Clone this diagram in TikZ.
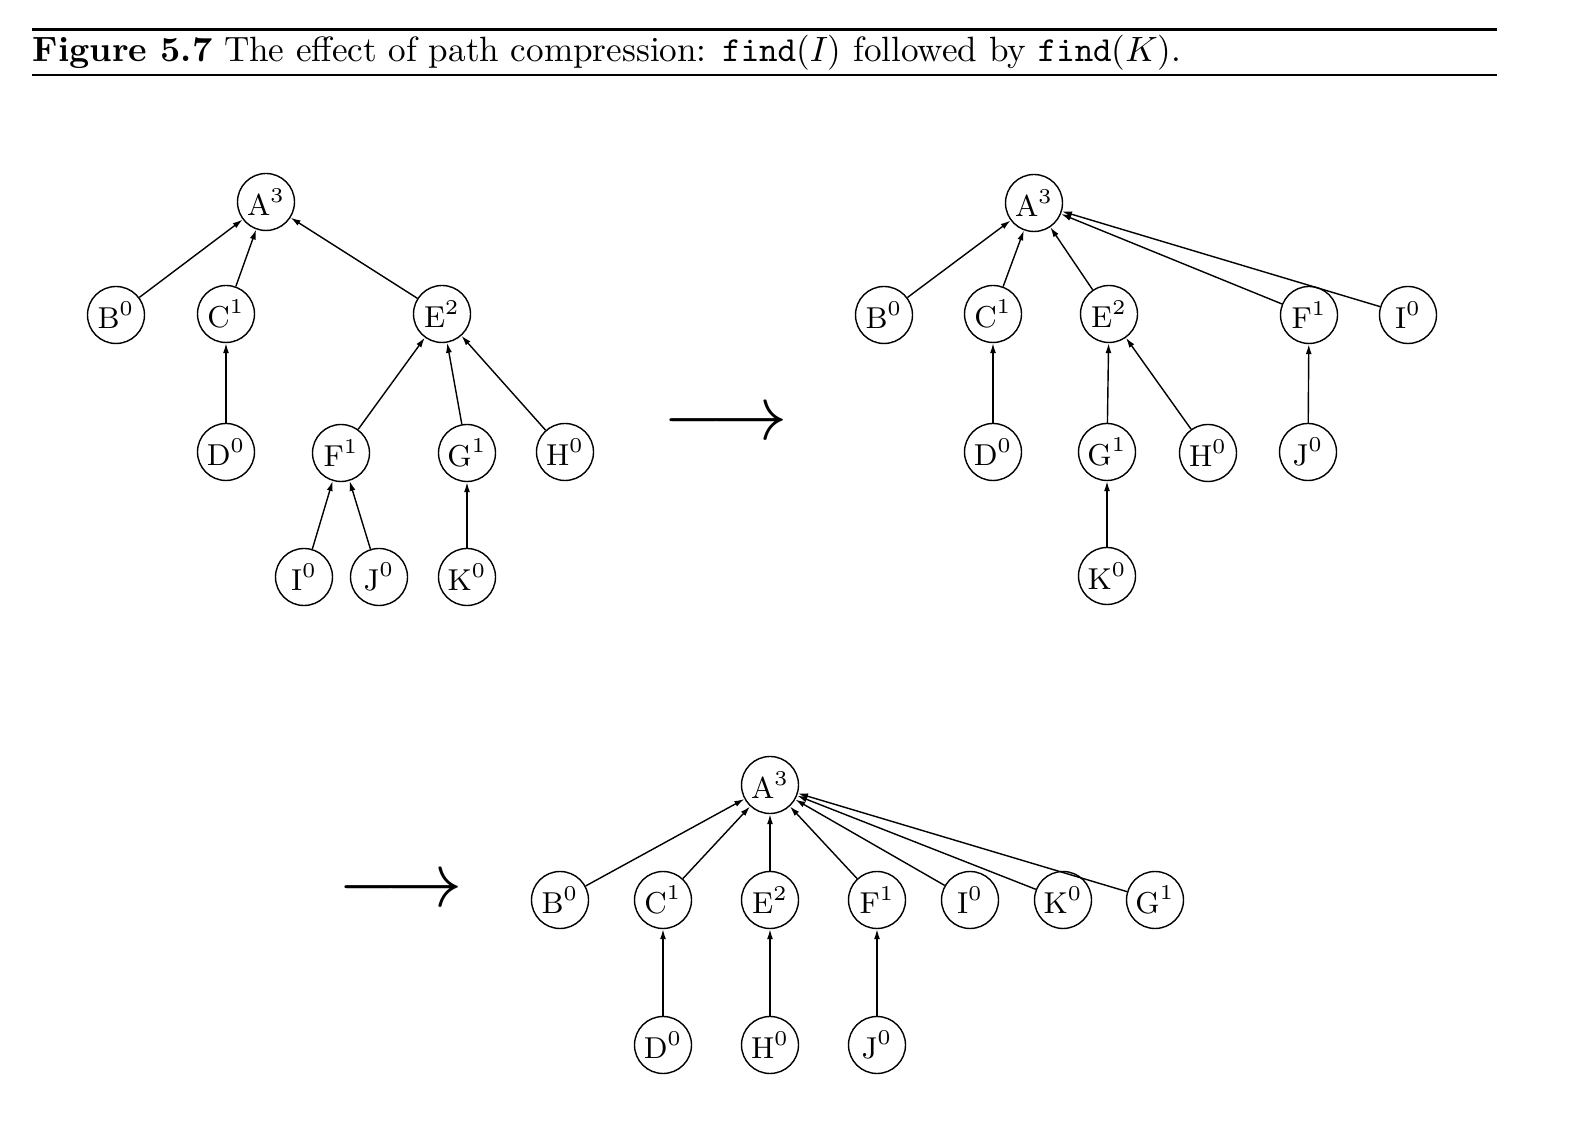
\documentclass[tikz,border=0pt]{standalone}
\usetikzlibrary{arrows.meta}
\tikzset{
  vtx/.style={draw,circle,line width=0.4pt,minimum size=0.57cm,inner sep=0pt,font=\fontsize{8.6}{10}\selectfont},
  edge/.style={line width=0.4pt,-{Latex[length=1.0mm,width=0.6mm]}},
  bigarrow/.style={inner sep=0pt}
}
\begin{document}
\begin{tikzpicture}
  \useasboundingbox (0,-11.21) rectangle (15.76,0);
  % caption
  \draw[line width=0.85pt] (0.32,-0.295) -- (14.97,-0.295);
  \draw[line width=0.6pt] (0.32,-0.75) -- (14.97,-0.75);
  \node[anchor=base west,inner sep=0pt] (title) at (0.32,-0.62)
    {\textbf{Figure 5.7} The effect of path compression: \texttt{find}($I$) followed by \texttt{find}($K$).};

  % first forest
  \node[vtx] (a1) at (2.66,-2.02) {A$^3$};
  \node[vtx] (b1) at (1.16,-3.15) {B$^0$};
  \node[vtx] (c1) at (2.26,-3.14) {C$^1$};
  \node[vtx] (e1) at (4.42,-3.14) {E$^2$};
  \node[vtx] (d1) at (2.26,-4.52) {D$^0$};
  \node[vtx] (f1) at (3.41,-4.53) {F$^1$};
  \node[vtx] (g1) at (4.67,-4.53) {G$^1$};
  \node[vtx] (h1) at (5.65,-4.52) {H$^0$};
  \node[vtx] (i1) at (3.04,-5.77) {I$^0$};
  \node[vtx] (j1) at (3.79,-5.77) {J$^0$};
  \node[vtx] (k1) at (4.67,-5.77) {K$^0$};
  \draw[edge] (b1) -- (a1);
  \draw[edge] (c1) -- (a1);
  \draw[edge] (e1) -- (a1);
  \draw[edge] (d1) -- (c1);
  \draw[edge] (f1) -- (e1);
  \draw[edge] (g1) -- (e1);
  \draw[edge] (h1) -- (e1);
  \draw[edge] (i1) -- (f1);
  \draw[edge] (j1) -- (f1);
  \draw[edge] (k1) -- (g1);

  \node[bigarrow] (arr1) at (7.26,-4.25) {\scalebox{2.2}{$\longrightarrow$}};

  % after find(I)
  \node[vtx] (a2) at (10.34,-2.03) {A$^3$};
  \node[vtx] (b2) at (8.84,-3.15) {B$^0$};
  \node[vtx] (c2) at (9.93,-3.14) {C$^1$};
  \node[vtx] (e2) at (11.09,-3.14) {E$^2$};
  \node[vtx] (f2) at (13.09,-3.15) {F$^1$};
  \node[vtx] (i2) at (14.08,-3.15) {I$^0$};
  \node[vtx] (d2) at (9.93,-4.52) {D$^0$};
  \node[vtx] (g2) at (11.07,-4.52) {G$^1$};
  \node[vtx] (h2) at (12.08,-4.53) {H$^0$};
  \node[vtx] (j2) at (13.08,-4.52) {J$^0$};
  \node[vtx] (k2) at (11.07,-5.76) {K$^0$};
  \draw[edge] (b2) -- (a2);
  \draw[edge] (c2) -- (a2);
  \draw[edge] (e2) -- (a2);
  \draw[edge] (f2) -- (a2);
  \draw[edge] (i2) -- (a2);
  \draw[edge] (d2) -- (c2);
  \draw[edge] (g2) -- (e2);
  \draw[edge] (h2) -- (e2);
  \draw[edge] (j2) -- (f2);
  \draw[edge] (k2) -- (g2);

  \node[bigarrow] (arr2) at (4.005,-8.92) {\scalebox{2.2}{$\longrightarrow$}};

  % after find(K)
  \node[vtx] (a3) at (7.70,-7.85) {A$^3$};
  \node[vtx] (b3) at (5.60,-9.00) {B$^0$};
  \node[vtx] (c3) at (6.63,-9.00) {C$^1$};
  \node[vtx] (e3) at (7.70,-9.00) {E$^2$};
  \node[vtx] (f3) at (8.77,-9.00) {F$^1$};
  \node[vtx] (i3) at (9.70,-9.00) {I$^0$};
  \node[vtx] (k3) at (10.63,-9.00) {K$^0$};
  \node[vtx] (g3) at (11.55,-9.00) {G$^1$};
  \node[vtx] (d3) at (6.63,-10.45) {D$^0$};
  \node[vtx] (h3) at (7.70,-10.45) {H$^0$};
  \node[vtx] (j3) at (8.77,-10.45) {J$^0$};
  \foreach \n in {b3,c3,e3,f3,i3,k3,g3}
    \draw[edge] (\n) -- (a3);
  \draw[edge] (d3) -- (c3);
  \draw[edge] (h3) -- (e3);
  \draw[edge] (j3) -- (f3);
\end{tikzpicture}
\end{document}
